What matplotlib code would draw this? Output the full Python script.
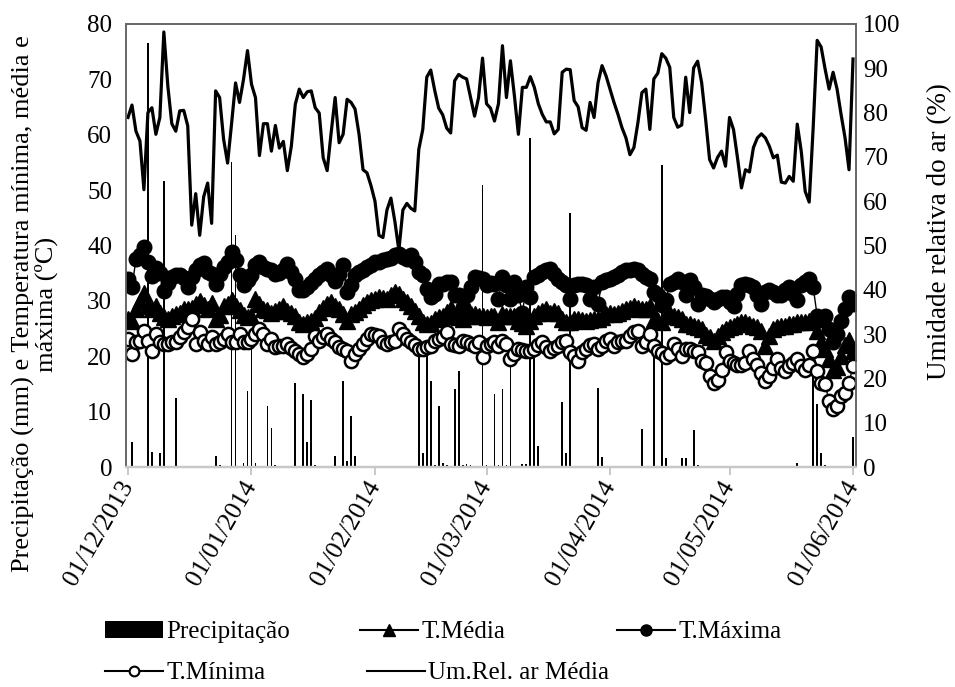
import numpy as np
import pandas as pd
import matplotlib
matplotlib.use('Agg')
import matplotlib.pyplot as plt
from matplotlib.lines import Line2D
from matplotlib.patches import Patch

plt.rcParams['font.family'] = ['Liberation Serif', 'DejaVu Serif']

# dias de 01/12/2013 a 01/06/2014
datas = pd.date_range('2013-12-01', '2014-06-01', freq='D')

# umidade relativa media (%)
umidade = [78.9, 81.7, 75.8, 73.6, 62.6, 80.0, 81.1, 75.1, 78.9, 98.2,
           86.0, 77.5, 75.8, 80.4, 80.5, 77.0, 54.6, 61.7, 52.3, 61.0,
           64.1, 55.0, 84.9, 83.4, 74.0, 68.6, 77.5, 86.7, 82.3, 87.5,
           94.0, 86.4, 83.4, 70.3, 77.5, 77.5, 71.3, 77.1, 72.0, 73.5,
           66.9, 72.4, 81.9, 85.3, 83.4, 84.7,
           84.9, 81.1, 79.9, 69.8, 66.9, 75.5, 83.4, 73.2, 75.1, 83.0,
           82.3, 80.8, 75.1, 67.1, 66.4, 63.5, 60.0, 52.3, 51.8, 58.0,
           60.7, 55.4, 48.9, 58.0, 59.5, 58.4, 57.8, 71.7, 76.2, 88.0,
           89.6, 85.0, 81.0, 79.5, 76.5, 75.4, 87.2, 88.6, 88.0, 87.6,
           83.4, 79.2, 83.4, 92.3, 82.0,
           81.0, 78.1, 82.0, 95.1, 83.4, 91.7, 83.8, 75.1, 85.7, 85.7,
           88.1, 85.7, 82.0, 79.6, 77.9, 77.9, 75.2, 76.2, 89.1, 89.8,
           89.7, 82.7, 81.3, 76.6, 76.0, 82.3, 78.9, 86.8, 90.6, 88.3,
           85.3, 82.3, 79.6, 76.6, 74.3, 70.5, 72.1, 77.7, 84.5, 85.3,
           76.2, 87.6, 88.9, 93.3, 92.3, 90.2,
           78.9, 76.7, 77.2, 88.0, 80.0, 90.1, 91.6, 86.8, 78.5, 69.4,
           67.5, 69.9, 71.3, 67.9, 78.9, 76.2, 69.8, 63.0, 67.1, 66.6,
           72.1, 74.3, 75.2, 74.3, 72.4, 69.8, 70.4, 64.3, 64.1, 65.6,
           64.5, 77.4, 71.3, 62.2, 59.8, 76.6, 96.3, 94.8, 89.8, 85.3,
           89.1, 85.3, 79.6, 74.3, 67.1, 92.1]

# temperatura maxima (oC)
t_max = [34.0, 32.5, 37.5, 38.2, 39.7, 37.0, 34.5, 36.0, 35.0, 31.8,
         33.2, 34.3, 34.6, 34.7, 34.2, 32.5, 34.3, 35.6, 36.5, 36.8,
         35.2, 34.8, 33.1, 34.9, 36.2, 37.0, 38.8, 37.4, 34.6, 32.8,
         33.7, 34.6, 36.4, 37.0, 36.1, 35.8, 35.5, 34.9, 35.0, 35.6,
         36.7, 35.2, 34.0, 31.9, 31.9, 32.5,
         33.2, 33.9, 34.6, 35.3, 35.8, 34.6, 33.6, 34.8, 36.4, 31.6,
         32.8, 34.6, 35.2, 35.6, 36.2, 36.4, 37.0, 37.1, 37.3, 37.6,
         37.8, 38.2, 38.5, 37.9, 37.6, 38.2, 37.0, 35.2, 34.6, 32.2,
         30.7, 31.3, 33.1, 33.1, 33.4, 33.4, 31.0, 31.0, 28.9, 31.0,
         32.5, 34.3, 34.1, 34.0, 32.8,
         33.2, 33.1, 30.4, 34.3, 32.8, 30.4, 33.4, 31.0, 27.9, 32.5,
         30.7, 34.3, 34.6, 35.2, 35.5, 35.8, 34.9, 34.0, 33.4, 32.8,
         30.4, 32.8, 33.1, 33.0, 32.8, 30.4, 32.5, 29.5, 33.4, 33.7,
         34.0, 34.3, 34.6, 35.2, 35.5, 35.6, 35.8, 35.5, 34.8, 34.3,
         34.0, 31.6, 31.0, 29.2, 30.1, 33.1,
         33.4, 34.0, 33.4, 31.0, 33.7, 32.5, 29.5, 31.0, 30.8, 30.4,
         29.8, 30.4, 30.7, 30.7, 29.8, 29.1, 31.3, 32.8, 33.1, 32.8,
         32.5, 31.0, 29.5, 31.6, 31.9, 31.6, 31.0, 31.0, 31.9, 32.5,
         31.3, 30.1, 32.8, 33.4, 34.0, 32.5, 27.3, 26.7, 27.3, 24.9,
         22.5, 24.0, 26.4, 28.5, 30.7, 29.5]

# temperatura media (oC)
t_med = [26.8, 26.4, 28.5, 30.0, 31.4, 29.1, 28.6, 29.1, 27.9, 27.0,
         26.7, 27.3, 27.6, 27.9, 28.5, 28.5, 28.8, 29.5, 30.0, 29.2,
         28.5, 29.6, 26.7, 27.5, 29.1, 29.5, 30.2, 29.0, 28.3, 27.5,
         27.0, 27.3, 30.4, 29.5, 28.5, 28.3, 27.9, 28.2, 28.5, 29.1,
         28.2, 27.8, 27.3, 26.1, 25.8, 26.1,
         26.4, 26.9, 28.0, 28.8, 29.5, 29.8, 29.0, 28.6, 27.6, 26.4,
         27.6, 28.0, 28.5, 29.2, 29.8, 30.1, 30.4, 30.7, 30.5, 30.4,
         31.0, 31.6, 31.3, 30.4, 29.8, 29.1, 28.2, 27.3, 26.1, 25.8,
         26.0, 26.7, 27.0, 27.3, 28.0, 28.8, 27.3, 27.0, 26.7, 27.3,
         27.6, 27.6, 27.3, 27.3, 27.0,
         27.3, 27.3, 26.1, 27.6, 27.3, 27.3, 27.3, 26.4, 26.0, 25.5,
         26.4, 27.3, 27.9, 28.2, 28.5, 27.9, 28.2, 27.9, 26.7, 26.1,
         26.1, 26.7, 26.7, 26.5, 26.4, 26.5, 26.7, 26.7, 27.0, 27.6,
         27.9, 27.6, 27.9, 28.2, 28.5, 28.8, 29.1, 28.8, 28.5, 28.5,
         29.0, 26.7, 26.4, 26.1, 27.3, 27.6,
         27.3, 27.0, 26.7, 25.8, 25.8, 25.5, 25.2, 24.9, 23.9, 23.4,
         22.8, 23.7, 24.3, 24.9, 25.2, 25.5, 25.8, 26.1, 26.1, 25.8,
         25.5, 25.2, 24.6, 21.9, 23.7, 24.9, 25.2, 25.5, 25.5, 25.8,
         25.8, 26.1, 26.1, 26.1, 26.4, 26.7, 24.6, 22.5, 21.3, 19.5,
         17.5, 18.0, 20.0, 22.0, 23.0, 21.0]

# temperatura minima (oC)
t_min = [23.1, 20.4, 22.5, 22.8, 24.6, 22.8, 21.0, 24.0, 22.5, 22.2,
         22.3, 22.5, 22.5, 23.4, 24.3, 25.2, 26.7, 22.2, 24.3, 22.8,
         22.2, 23.4, 22.2, 22.5, 23.2, 24.0, 22.5, 22.5, 24.0, 22.5,
         22.5, 23.1, 24.0, 24.9, 24.0, 22.2, 23.1, 21.6, 21.8, 21.9,
         22.2, 21.5, 21.0, 20.4, 19.8, 20.4,
         21.3, 23.7, 22.8, 23.4, 24.0, 23.1, 22.5, 21.6, 21.3, 21.0,
         19.2, 20.4, 21.3, 22.2, 23.1, 24.0, 23.8, 23.7, 22.5, 22.2,
         22.5, 22.8, 25.0, 24.0, 23.1, 22.5, 22.0, 21.3, 21.3, 21.6,
         21.9, 22.8, 23.1, 23.4, 24.3, 22.2, 22.0, 21.9, 22.8, 22.5,
         22.2, 21.9, 22.5, 19.8, 21.9,
         22.2, 22.5, 21.9, 22.8, 22.2, 19.5, 20.4, 21.3, 21.2, 21.0,
         21.0, 21.3, 22.0, 22.5, 21.6, 21.0, 21.5, 21.9, 22.5, 22.8,
         20.7, 20.1, 19.2, 20.7, 21.3, 22.0, 22.2, 21.3, 21.9, 22.8,
         23.1, 21.9, 22.5, 22.8, 22.8, 23.7, 24.3, 24.6, 21.9, 22.5,
         24.0, 21.9, 21.0, 20.6, 19.8, 20.4,
         22.2, 21.3, 20.1, 21.3, 21.3, 21.0, 20.7, 19.2, 18.8, 16.4,
         15.2, 15.8, 17.6, 20.7, 19.2, 18.8, 18.5, 18.5, 18.8, 21.0,
         19.5, 18.5, 17.0, 15.5, 16.4, 17.9, 19.5, 17.9, 17.3, 18.2,
         18.8, 19.5, 18.2, 17.6, 18.5, 21.0, 17.3, 15.2, 14.9, 11.9,
         10.4, 11.0, 12.8, 13.4, 15.2, 18.2]

# precipitacao (mm): dia (a partir de 01/12/2013) e altura
dias_chuva = [1, 5, 6, 8, 9, 12, 22, 23, 26, 27, 29, 30, 31, 32, 35, 36, 37,
              42, 44, 45, 46, 47, 52, 54, 55, 56, 57, 73, 74, 75, 76, 77, 78,
              79, 80, 82, 83, 84, 85, 86, 89, 90, 92, 93, 94, 95, 96, 99, 100,
              101, 102, 103, 109, 110, 111, 118, 119, 129, 132, 134, 135, 139,
              140, 142, 143, 168, 172, 173, 174, 175, 182]
chuva = [4.5, 76.5, 2.7, 2.6, 51.6, 12.5, 2.0, 0.4, 55.0, 41.9, 0.7, 13.7,
         21.3, 0.7, 11.1, 7.0, 0.3, 15.1, 13.2, 4.6, 12.1, 0.4, 1.9, 15.5,
         1.0, 9.3, 1.9, 20.4, 2.6, 20.4, 15.5, 0.4, 11.1, 0.7, 0.3, 14.1,
         17.3, 0.3, 0.5, 0.3, 51.0, 0.3, 13.2, 0.3, 14.1, 0.3, 20.0, 0.5,
         0.5, 59.4, 20.4, 3.8, 11.7, 2.6, 45.8, 14.3, 1.8, 6.8, 21.3, 54.6,
         1.7, 1.7, 1.7, 6.7, 0.3, 0.8, 22.0, 11.3, 2.6, 0.3, 5.5]

datas_chuva = datas[0] + pd.to_timedelta(dias_chuva, unit='D')
meses = pd.date_range('2013-12-01', '2014-06-01', freq='MS')

fig = plt.figure(figsize=(9.55, 6.87), dpi=100)
ax = fig.add_axes([126/955, 1 - 467/687, 730/955, 443/687])

ax.bar(datas_chuva, chuva, width=0.45, color='black', zorder=1)
ax.plot(datas, t_med, color='black', lw=1, marker='^', ms=11, zorder=2)
ax.plot(datas, t_max, color='black', lw=1, marker='o', ms=10.5, zorder=3)
ax.plot(datas, t_min, color='black', lw=1, marker='o', ms=9.5,
        mfc='white', mec='black', mew=1.8, zorder=4)

ax2 = ax.twinx()
ax2.plot(datas, umidade, color='black', lw=2.3)

ax.set_xlim(datas[0] - pd.Timedelta(hours=12), datas[-1] + pd.Timedelta(hours=18))
ax.set_ylim(0, 80)
ax.set_yticks(np.arange(0, 81, 10))
ax2.set_ylim(0, 100)
ax2.set_yticks(np.arange(0, 101, 10))

ax.set_xticks(meses)
ax.set_xticklabels([m.strftime('%d/%m/%Y') for m in meses])
for lab in ax.get_xticklabels():
    lab.set_rotation(60)
    lab.set_ha('right')
    lab.set_va('center')
    lab.set_rotation_mode('anchor')

ax.tick_params(axis='y', length=0, labelsize=18, pad=10)
ax2.tick_params(axis='y', length=0, labelsize=18, pad=5)
ax.tick_params(axis='x', length=6, color='#bfbfbf', width=1.2, labelsize=18.5, pad=5)

for a in (ax, ax2):
    for s in a.spines.values():
        s.set_color('#666666')
        s.set_linewidth(1.2)
    a.spines['bottom'].set_color('#c8c8c8')
    a.spines['bottom'].set_linewidth(1.6)

fig.text(35/955, 1 - 304/687,
         'Precipitação (mm) e Temperatura mínima, média e\nmáxima (ºC)',
         rotation=90, ha='center', va='center', fontsize=19,
         multialignment='center', linespacing=1.0)
fig.text(940/955, 1 - 232/687, 'Umidade relativa do ar (%)',
         rotation=90, ha='center', va='center', fontsize=19.5)

# legenda
itens = [
    (Patch(facecolor='black'), 'Precipitação', 105, 632),
    (Line2D([], [], color='black', lw=1.5, marker='^', ms=8), 'T.Média', 360, 632),
    (Line2D([], [], color='black', lw=1.5, marker='o', ms=8), 'T.Máxima', 617, 632),
    (Line2D([], [], color='black', lw=1.5, marker='o', ms=7, mfc='white', mew=1.5),
     'T.Mínima', 105, 673),
    (Line2D([], [], color='black', lw=1.5), 'Um.Rel. ar Média', 367, 673),
]
for h, nome, px, py in itens:
    fig.legend([h], [nome], loc='center left', bbox_to_anchor=(px/955, 1 - py/687),
               frameon=False, fontsize=18, borderpad=0, borderaxespad=0,
               handlelength=2.3, handletextpad=0.15, handleheight=0.7)

fig.savefig('out.png', dpi=100)
